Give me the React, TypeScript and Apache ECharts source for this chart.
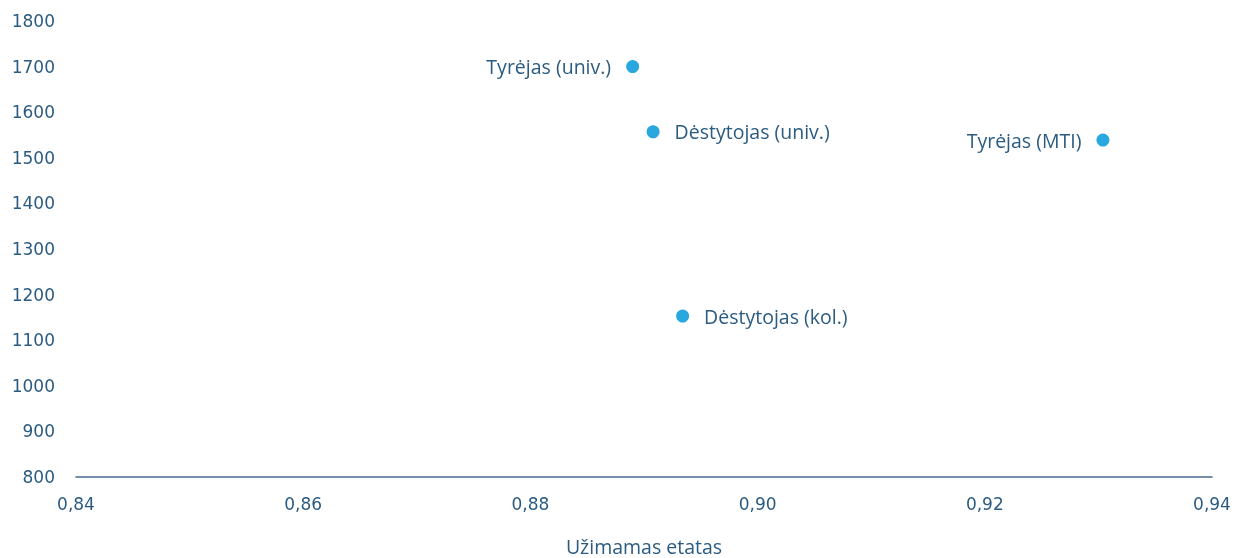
import React, { useEffect, useRef } from "react";
import * as echarts from "echarts";

const names = ["Tyrėjas (univ.)", "Dėstytojas (univ.)", "Tyrėjas (MTI)", "Dėstytojas (kol.)"];
const fte = [0.889, 0.8908, 0.9304, 0.8934];
const salary = [1700, 1557, 1539, 1153];
const labelSide = ["left", "right", "left", "right"];

const textColor = "#2b5b80";
const dotColor = "#29a8df";

export default function App() {
  const ref = useRef<HTMLDivElement>(null);
  useEffect(() => {
    const chart = echarts.init(ref.current!, undefined, { renderer: "svg" });
    chart.setOption({
      animation: false,
      grid: { left: 76, right: 24, top: 21, bottom: 81, outerBoundsMode: "none", containLabel: false },
      xAxis: {
        type: "value",
        min: 0.84,
        max: 0.94,
        interval: 0.02,
        name: "Užimamas etatas",
        nameLocation: "middle",
        nameGap: 59,
        nameTextStyle: { color: textColor, fontSize: 19.5, fontFamily: "Open Sans" },
        axisLine: { show: true, lineStyle: { color: "#45698a", width: 1.5 } },
        axisTick: { show: false },
        splitLine: { show: false },
        axisLabel: {
          color: textColor,
          fontSize: 17,
          fontFamily: "DejaVu Sans",
          margin: 18,
          formatter: (v: number) => v.toFixed(2).replace(".", ","),
        },
      },
      yAxis: {
        type: "value",
        min: 800,
        max: 1800,
        interval: 100,
        axisLine: { show: false },
        axisTick: { show: false },
        splitLine: { show: false },
        axisLabel: {
          color: textColor,
          fontSize: 17,
          fontFamily: "DejaVu Sans",
          margin: 21,
          formatter: (v: number) => String(v),
        },
      },
      series: [
        {
          type: "scatter",
          symbolSize: 13,
          itemStyle: { color: dotColor, opacity: 1 },
          data: names.map((n, i) => ({
            value: [fte[i], salary[i]],
            name: n,
            label: {
              show: true,
              position: labelSide[i],
              distance: 15,
              formatter: n,
              color: textColor,
              opacity: 1,
              fontSize: 19.5,
              fontFamily: "Open Sans",
            },
          })),
        },
      ],
    });
    return () => chart.dispose();
  }, []);
  return <div ref={ref} style={{ position: "fixed", left: 0, top: 0, width: 1236, height: 558 }} />;
}
